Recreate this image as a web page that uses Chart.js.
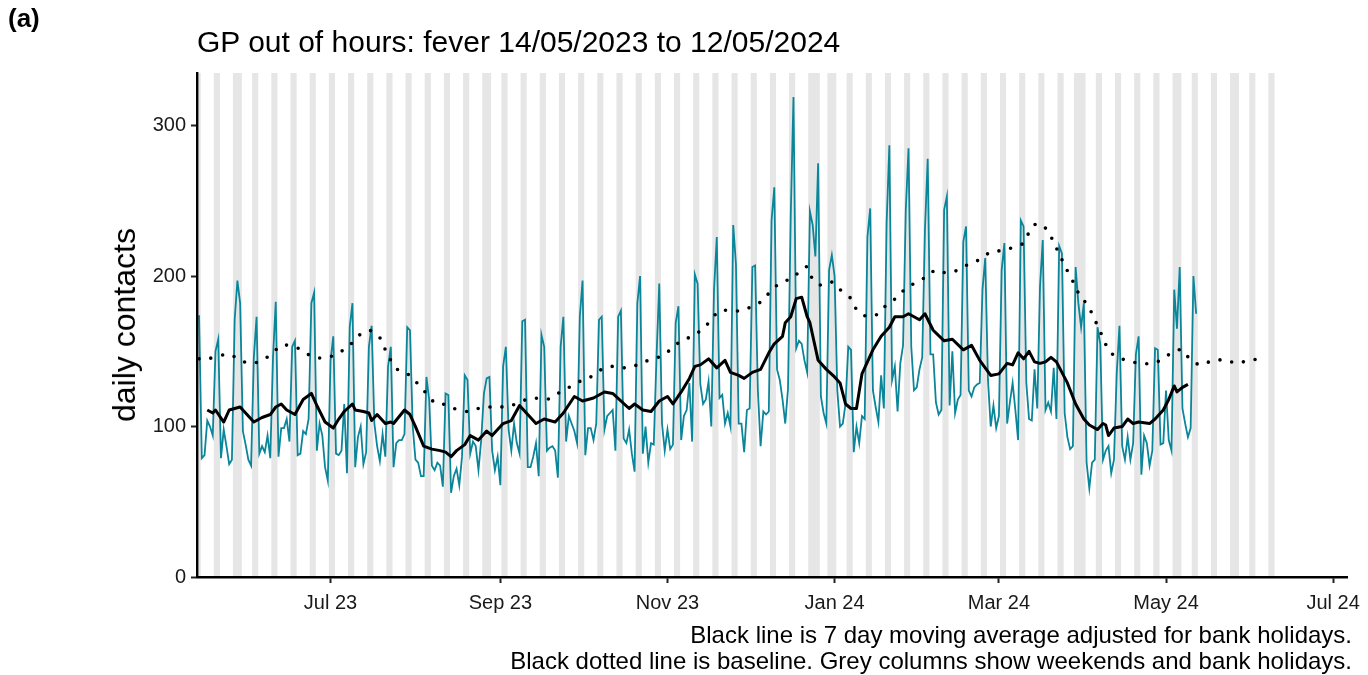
<!DOCTYPE html>
<html>
<head>
<meta charset="utf-8">
<script src="https://cdn.jsdelivr.net/npm/chart.js@4.4.1/dist/chart.umd.min.js"></script>
<style>
  html, body { margin: 0; padding: 0; background: #fff; }
  #wrap { position: relative; width: 1368px; height: 675px; font-family: "Liberation Sans", Arial, sans-serif; color: #000; overflow: hidden; }
  #chart { position: absolute; left: 0; top: 0; }
  .txt { position: absolute; white-space: nowrap; line-height: 1; }
  #panel { left: 8px; top: 5px; font-size: 26px; font-weight: bold; }
  #title { left: 197px; top: 27px; font-size: 30px; }
  #ytitle { left: 124px; top: 325px; font-size: 32px; transform: translate(-50%, -50%) rotate(-90deg); }
  #caption { right: 16px; top: 622px; font-size: 24px; line-height: 26px; text-align: right; }
</style>
</head>
<body>
<div id="wrap">
  <canvas id="chart" width="1368" height="675"></canvas>
  <div class="txt" id="panel">(a)</div>
  <div class="txt" id="title">GP out of hours: fever 14/05/2023 to 12/05/2024</div>
  <div class="txt" id="ytitle">daily contacts</div>
  <div class="txt" id="caption">Black line is 7 day moving average adjusted for bank holidays.<br>Black dotted line is baseline. Grey columns show weekends and bank holidays.</div>
</div>
<script>
// day 0 = Sun 14/05/2023
const startDate = new Date(2023, 4, 14);

// daily contacts, one row per week (Sun..Sat)
const dailyValues = [
  174, 79, 81, 104, 100, 94, 150,
  158, 79, 98, 87, 75, 78, 171,
  197, 182, 97, 88, 78, 74, 146,
  173, 82, 87, 83, 94, 79, 146,
  183, 80, 99, 99, 105, 90, 153,
  157, 81, 82, 97, 95, 105, 182,
  189, 84, 102, 94, 73, 64, 144,
  160, 82, 81, 84, 115, 69, 166,
  182, 73, 93, 100, 75, 83, 153,
  167, 102, 87, 77, 95, 80, 140,
  153, 73, 89, 91, 91, 95, 166,
  164, 100, 78, 76, 67, 67, 133,
  118, 74, 71, 76, 74, 60, 122,
  121, 56, 67, 72, 61, 80, 134,
  131, 82, 90, 87, 71, 91, 122,
  132, 133, 84, 71, 80, 61, 140,
  153, 98, 84, 102, 89, 82, 170,
  171, 73, 73, 80, 89, 67, 161,
  153, 84, 86, 87, 84, 66, 153,
  173, 90, 107, 102, 97, 89, 173,
  197, 81, 99, 99, 91, 102, 171,
  173, 98, 107, 109, 111, 84, 173,
  177, 92, 89, 98, 82, 70, 182,
  200, 82, 100, 76, 89, 88, 146,
  195, 102, 84, 98, 85, 88, 169,
  180, 91, 107, 111, 129, 90, 201,
  195, 128, 115, 118, 130, 100, 191,
  226, 119, 121, 102, 109, 100, 234,
  208, 102, 102, 83, 111, 112, 206,
  207, 124, 87, 110, 108, 110, 237,
  259, 138, 131, 118, 102, 125, 240,
  319, 152, 157, 155, 144, 136, 243,
  234, 213, 275, 120, 109, 102, 204,
  214, 200, 124, 100, 102, 115, 153,
  151, 83, 100, 89, 107, 105, 226,
  245, 124, 113, 103, 134, 112, 235,
  287, 131, 140, 110, 142, 154, 244,
  285, 153, 124, 126, 138, 146, 231,
  278, 148, 148, 116, 108, 111, 244,
  253, 114, 150, 109, 118, 121, 223,
  233, 124, 120, 126, 128, 129, 191,
  212, 131, 100, 114, 99, 107, 204,
  222, 102, 116, 129, 111, 91, 237,
  233, 129, 105, 104, 138, 112, 193,
  224, 111, 116, 110, 139, 105, 220,
  215, 109, 93, 85, 87, 206, 182,
  166, 182, 76, 59, 76, 78, 166,
  155, 78, 84, 87, 69, 78, 135,
  167, 87, 78, 93, 78, 89, 148,
  160, 68, 94, 89, 74, 84, 152,
  151, 88, 89, 124, 91, 84, 191,
  165, 206, 112, 102, 93, 99, 200,
  175
];

// 7 day moving average
const maDays = [3, 5, 6, 9, 11, 15, 17, 20, 23, 26, 28, 30, 32, 35, 38, 41, 43, 46, 49, 51, 53, 56, 57, 60,
  62, 63, 65, 68, 70, 71, 75, 77, 79, 82, 85, 88, 90, 92, 94, 97, 99, 102, 105, 107, 111, 114, 117, 119,
  120, 123, 126, 130, 133, 137, 140, 144, 148, 151, 157, 159, 162, 165, 168, 171, 173, 176, 179, 181, 183,
  186, 189, 192, 194, 197, 199, 202, 205, 208, 210, 213, 214, 216, 218, 220, 222, 223, 226, 229, 232, 234,
  236, 238, 240, 242, 244, 246, 249, 252, 254, 257, 259, 263, 265, 268, 272, 275, 279, 282, 285, 289, 292,
  295, 297, 299, 301, 303, 305, 307, 309, 311, 313, 317, 320, 323, 325, 328, 330, 331, 332, 334, 337, 339,
  341, 343, 347, 349, 352, 354, 356, 357, 359, 361];
const maValues = [111, 109, 111, 103, 111, 113, 109, 103, 106, 108, 113, 115, 111, 108, 118, 122, 114, 103, 99, 105, 110, 115, 111, 110,
  109, 104, 108, 102, 103, 102, 111, 108, 100, 87, 85, 84, 83, 80, 84, 88, 94, 91, 97, 94, 102, 104, 114, 110,
  108, 102, 105, 103, 109, 120, 117, 119, 123, 122, 112, 115, 111, 110, 117, 120, 115, 123, 132, 140, 141,
  145, 139, 144, 136, 134, 132, 136, 138, 149, 155, 160, 169, 173, 185, 186, 173, 169, 144, 138, 133, 129,
  115, 112, 112, 135, 143, 151, 160, 166, 173, 173, 175, 171, 175, 164, 157, 158, 151, 154, 144, 134, 135,
  142, 141, 149, 145, 150, 143, 142, 143, 146, 143, 129, 115, 105, 101, 98, 102, 101, 94, 99, 100, 105,
  102, 103, 102, 105, 111, 118, 127, 123, 126, 128];

// baseline (dotted)
const baseDays = [0, 3, 11, 15, 19, 23, 27, 30, 35, 38, 42, 47, 51, 55, 58, 62, 66, 68, 70, 73, 77, 80, 83, 86,
  89, 93, 98, 102, 106, 110, 114, 118, 122, 127, 131, 135, 139, 143, 147, 151, 156, 160, 164, 169, 172,
  176, 180, 184, 187, 190, 194, 198, 202, 206, 209, 213, 217, 220, 222, 224, 227, 231, 234, 238, 240, 244,
  248, 251, 255, 258, 261, 265, 269, 273, 277, 281, 285, 289, 293, 297, 301, 303, 306, 310, 312, 314, 316,
  318, 320, 322, 324, 326, 328, 330, 332, 335, 339, 343, 348, 352, 355, 359, 362, 366, 370, 375, 379, 383, 388];
const baseValues = [145, 145, 148, 144, 142, 144, 149, 154, 153, 150, 146, 146, 149, 154, 160, 164, 159, 151, 144, 137, 134, 128, 122, 116,
  115, 112, 110, 112, 113, 113, 114, 117, 119, 118, 122, 126, 130, 133, 138, 140, 139, 141, 144, 147, 151,
  157, 160, 165, 171, 177, 177, 177, 180, 184, 191, 196, 199, 205, 206, 198, 194, 196, 191, 185, 178, 173,
  175, 181, 186, 192, 195, 199, 204, 202, 204, 208, 211, 216, 217, 219, 222, 229, 235, 230, 222, 215, 207,
  200, 193, 185, 182, 175, 167, 159, 151, 146, 144, 142, 142, 145, 149, 151, 144, 141, 144, 144, 142, 144, 145];

// bank holidays as day offsets: 29/05/23, 28/08/23, 25-26/12/23, 01/01/24, 29/03/24, 01/04/24, 06/05/24, 27/05/24
const bankHolidayDays = [15, 106, 225, 226, 232, 320, 323, 358, 379];
const columnsLastDay = 392;

const tickDays = [48, 110, 171, 232, 292, 353, 414];
const tickLabels = ['Jul 23', 'Sep 23', 'Nov 23', 'Jan 24', 'Mar 24', 'May 24', 'Jul 24'];

const Y_MAX = 335;

// grey columns: weekends + bank holidays
const columnDays = [];
for (let d = 0; d <= columnsLastDay; d++) {
  const dt = new Date(startDate.getFullYear(), startDate.getMonth(), startDate.getDate() + d);
  const wd = dt.getDay();
  if (wd === 0 || wd === 6 || bankHolidayDays.includes(d)) columnDays.push(d);
}

const dailyPts = dailyValues.map((v, i) => ({ x: i, y: v }));
const maPts = maDays.map((d, i) => ({ x: d, y: maValues[i] }));
const basePts = baseDays.map((d, i) => ({ x: d, y: baseValues[i] }));
const colPts = columnDays.map(d => ({ x: d, y: Y_MAX }));

const FONT = '"Liberation Sans", Arial, sans-serif';

new Chart(document.getElementById('chart').getContext('2d'), {
  data: {
    datasets: [
      {
        type: 'bar',
        data: colPts,
        backgroundColor: '#e6e6e6',
        borderWidth: 0,
        barPercentage: 1,
        categoryPercentage: 1,
        grouped: false,
        order: 4
      },
      {
        type: 'line',
        data: dailyPts,
        borderColor: '#0a8599',
        borderWidth: 1.8,
        pointRadius: 0,
        tension: 0,
        order: 3
      },
      {
        type: 'line',
        data: basePts,
        borderColor: '#000',
        borderWidth: 3.6,
        borderDash: [0, 12],
        borderCapStyle: 'round',
        pointRadius: 0,
        tension: 0.3,
        order: 2
      },
      {
        type: 'line',
        data: maPts,
        borderColor: '#000',
        borderWidth: 3,
        borderJoinStyle: 'round',
        pointRadius: 0,
        tension: 0,
        order: 1
      }
    ]
  },
  options: {
    responsive: false,
    animation: false,
    events: [],
    layout: { padding: { left: 0, top: 73, right: 16, bottom: 0 } },
    plugins: { legend: { display: false }, tooltip: { enabled: false } },
    scales: {
      x: {
        type: 'linear',
        position: 'bottom',
        offset: false,
        min: -0.75,
        max: 419.25,
        afterBuildTicks: s => { s.ticks = tickDays.map(v => ({ value: v })); },
        afterFit: s => { s.height = 98; },
        ticks: {
          autoSkip: false,
          maxRotation: 0,
          padding: 8,
          color: '#1a1a1a',
          font: { family: FONT, size: 20 },
          callback: (v) => tickLabels[tickDays.indexOf(v)]
        },
        grid: { offset: false, drawOnChartArea: false, drawTicks: true, tickLength: 6, tickWidth: 2, tickColor: '#222' },
        border: { display: true, color: '#000', width: 2.4, z: 2 }
      },
      y: {
        type: 'linear',
        min: 0,
        max: Y_MAX,
        afterBuildTicks: s => { s.ticks = [0, 100, 200, 300].map(v => ({ value: v })); },
        afterFit: s => { s.width = 197; },
        ticks: {
          padding: 5,
          color: '#1a1a1a',
          font: { family: FONT, size: 20 }
        },
        grid: { drawOnChartArea: false, drawTicks: true, tickLength: 6, tickWidth: 2, tickColor: '#222' },
        border: { display: true, color: '#000', width: 2.4, z: 2 }
      }
    }
  }
});
</script>
</body>
</html>
